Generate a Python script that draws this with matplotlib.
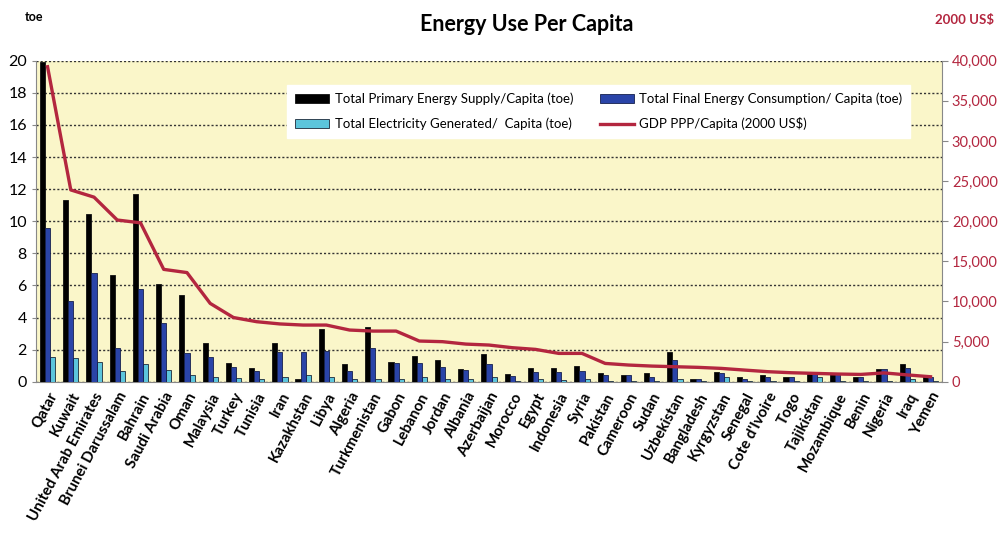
import numpy as np
import matplotlib
matplotlib.use('Agg')
import matplotlib.pyplot as plt
from matplotlib.ticker import FuncFormatter, MultipleLocator

plt.rcParams['font.family'] = ['Lato', 'DejaVu Sans']

countries = ['Qatar', 'Kuwait', 'United Arab Emirates', 'Brunei Darussalam', 'Bahrain',
             'Saudi Arabia', 'Oman', 'Malaysia', 'Turkey', 'Tunisia', 'Iran', 'Kazakhstan',
             'Libya', 'Algeria', 'Turkmenistan', 'Gabon', 'Lebanon', 'Jordan', 'Albania',
             'Azerbaijan', 'Morocco', 'Egypt', 'Indonesia', 'Syria', 'Pakistan', 'Cameroon',
             'Sudan', 'Uzbekistan', 'Bangladesh', 'Kyrgyzstan', 'Senegal', "Cote d'Ivoire",
             'Togo', 'Tajikistan', 'Mozambique', 'Benin', 'Nigeria', 'Iraq', 'Yemen']

# toe per capita
primary_supply = [19.9, 11.3, 10.45, 6.65, 11.7, 6.06, 5.38, 2.43, 1.18, 0.83, 2.39, 0.2,
                  3.26, 1.1, 3.43, 1.25, 1.6, 1.35, 0.77, 1.7, 0.48, 0.87, 0.83, 0.98,
                  0.56, 0.42, 0.56, 1.83, 0.17, 0.6, 0.27, 0.44, 0.31, 0.52, 0.48, 0.31,
                  0.77, 1.12, 0.33]
final_consumption = [9.6, 5.0, 6.75, 2.08, 5.75, 3.63, 1.8, 1.55, 0.9, 0.66, 1.87, 1.83,
                     1.93, 0.69, 2.08, 1.18, 1.18, 0.9, 0.73, 1.1, 0.35, 0.62, 0.62, 0.69,
                     0.42, 0.42, 0.3, 1.35, 0.15, 0.52, 0.2, 0.31, 0.31, 0.48, 0.48, 0.27,
                     0.77, 0.83, 0.31]
electricity = [1.55, 1.5, 1.25, 0.66, 1.1, 0.72, 0.45, 0.3, 0.25, 0.15, 0.27, 0.45,
               0.3, 0.2, 0.2, 0.15, 0.3, 0.2, 0.15, 0.27, 0.06, 0.15, 0.1, 0.2,
               0.06, 0.04, 0.02, 0.15, 0.03, 0.3, 0.04, 0.05, 0.04, 0.27, 0.04, 0.03,
               0.05, 0.17, 0.03]
# 2000 US$ per capita
gdp = [39250, 23900, 23000, 20150, 19800, 14000, 13600, 9760, 8000, 7480, 7200, 7060,
       7060, 6440, 6310, 6310, 5070, 4990, 4690, 4570, 4240, 4030, 3530, 3530,
       2280, 2080, 1950, 1870, 1790, 1660, 1450, 1250, 1120, 1040, 960, 910,
       1100, 850, 620]

RED = '#b3263f'

fig = plt.figure(figsize=(9.98, 5.35), dpi=100)
ax = fig.add_axes([0.036, 0.2865, 0.908, 0.600])
ax.set_facecolor('#faf6c9')

x = np.arange(len(countries))
w = 0.22
b1 = ax.bar(x - w, primary_supply, w, color='black', edgecolor='#111111', linewidth=0.6,
            label='Total Primary Energy Supply/Capita (toe)', zorder=3)
b3 = ax.bar(x + w, electricity, w, color='#5cc5dc', edgecolor='#1d2a3a', linewidth=0.6,
            label='Total Electricity Generated/  Capita (toe)', zorder=3)
b2 = ax.bar(x, final_consumption, w, color='#2a44a8', edgecolor='#16204d', linewidth=0.6,
            label='Total Final Energy Consumption/ Capita (toe)', zorder=3)

ax.set_xlim(-0.5, len(countries) - 0.5)
ax.set_ylim(0, 20)
ax.yaxis.set_major_locator(MultipleLocator(2))
ax.grid(axis='y', linestyle=(0, (1.5, 1.5)), color='#333333', linewidth=1.0, zorder=1)
ax.set_xticks(x)
ax.set_xticklabels(countries, rotation=62, ha='right', rotation_mode='anchor',
                   fontsize=10.8, fontweight='bold')
ax.tick_params(axis='x', length=0, pad=6)
ax.tick_params(axis='y', labelsize=11.5, length=3, color='#888888')
for s in ['top', 'right']:
    ax.spines[s].set_visible(False)
ax.spines['left'].set_color('#888888')
ax.spines['bottom'].set_color('#888888')

ax2 = ax.twinx()
ln, = ax2.plot(x, gdp, color=RED, linewidth=2.4, label='GDP PPP/Capita (2000 US$)', zorder=4)
ax2.set_ylim(0, 40000)
ax2.yaxis.set_major_locator(MultipleLocator(5000))
ax2.yaxis.set_major_formatter(FuncFormatter(lambda v, p: f'{int(v):,}'))
ax2.tick_params(axis='y', labelsize=10.5, labelcolor=RED, length=4, color='#888888', pad=3)
for s in ['top', 'left', 'bottom']:
    ax2.spines[s].set_visible(False)
ax2.spines['right'].set_color('#888888')

leg = ax.legend(handles=[b1, b3, b2, ln], ncol=2, loc='upper left',
                bbox_to_anchor=(0.27, 0.945), frameon=True, fancybox=False,
                edgecolor='white', facecolor='white', framealpha=1, fontsize=9.5,
                handlelength=2.6, handletextpad=0.4, columnspacing=2.0,
                borderpad=0.6, labelspacing=0.9)
leg.set_zorder(10)

fig.text(0.528, 0.955, 'Energy Use Per Capita', ha='center', va='center',
         fontsize=15.5, fontweight='bold')
fig.text(0.025, 0.968, 'toe', ha='left', va='center', fontsize=9, fontweight='bold')
fig.text(0.937, 0.963, '2000 US$', ha='left', va='center', fontsize=9.5,
         fontweight='bold', color=RED)

fig.savefig('out.png', dpi=100)
